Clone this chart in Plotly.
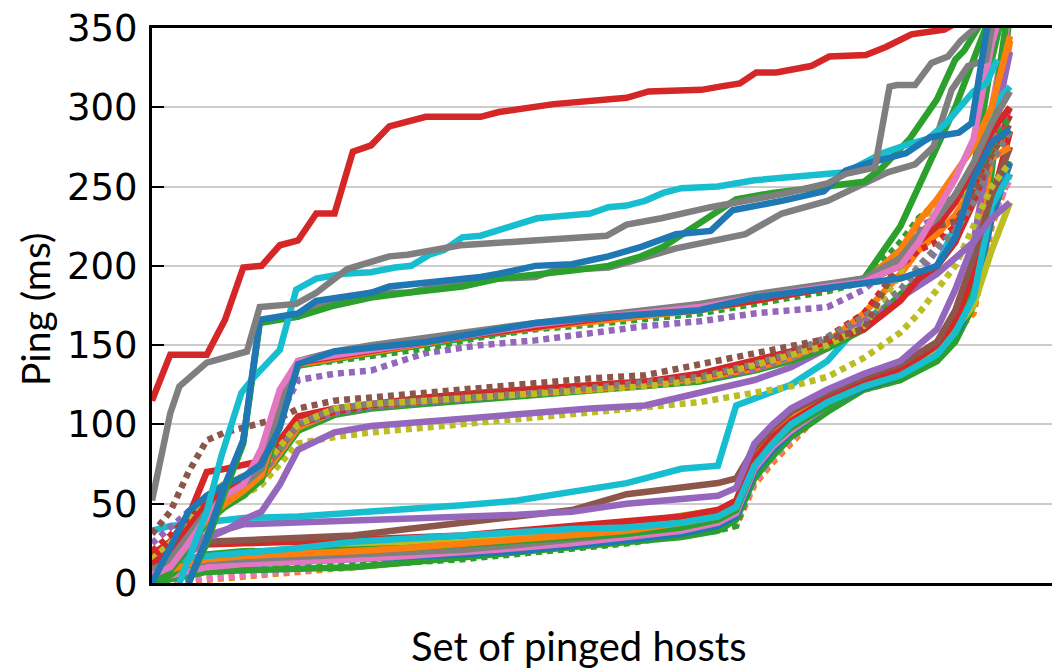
import plotly.graph_objects as go

# ---------------- data (host index on x, ping in ms on y) ----------------
# knot positions shared by the low band (jump near host 32)
knots_low = [0, 1, 2, 3, 5, 8, 11, 14, 17, 20, 23, 26, 29, 31, 32, 33, 34, 35, 37, 39, 41, 43, 44, 45, 46, 47]
# knot positions shared by the middle bands
knots_mid = [0, 1, 2, 3, 4, 5, 6, 7, 8, 10, 12, 15, 18, 21, 24, 27, 30, 33, 35, 37, 39, 41, 42, 43, 44, 45, 46, 47]

# low band (0-75 ms before the jump)
low_orange_dot = [0, 0, 0, 2, 4, 7, 10, 13, 15, 18, 22, 26, 31, 34, 36, 62, 76, 88, 112, 122, 128, 146, 158, 170, 225, 258]
low_pink_dot   = [0, 1, 2, 3, 5, 8, 11, 14, 16, 19, 23, 27, 31, 35, 37, 64, 78, 90, 112, 123, 129, 147, 160, 175, 230, 255]
low_green_dot  = [3, 5, 6, 7, 8, 9, 11, 13, 15, 18, 21, 25, 30, 33, 36, 68, 84, 95, 114, 125, 132, 145, 160, 185, 238, 268]
low_green_b    = [0, 2, 5, 7, 8, 9, 10, 13, 16, 19, 22, 25, 29, 33, 40, 66, 80, 92, 108, 122, 128, 140, 152, 175, 260, 360]
low_blue       = [3, 7, 10, 11, 12, 13, 14, 16, 18, 20, 23, 27, 31, 36, 42, 70, 84, 95, 112, 123, 130, 142, 155, 178, 230, 265]
low_pink       = [2, 5, 8, 10, 12, 13, 15, 17, 19, 22, 25, 29, 33, 38, 44, 72, 86, 96, 112, 124, 132, 144, 160, 200, 300, 360]
low_gray       = [10, 12, 13, 14, 15, 16, 17, 19, 21, 24, 27, 31, 36, 42, 50, 82, 96, 105, 118, 128, 136, 148, 165, 195, 245, 275]
low_olive      = [6, 10, 14, 16, 18, 21, 24, 26, 28, 30, 33, 37, 42, 46, 52, 84, 98, 108, 120, 128, 133, 145, 160, 175, 210, 240]
low_green_a    = [0, 5, 14, 18, 20, 20, 21, 22, 24, 26, 28, 31, 35, 40, 46, 74, 88, 98, 112, 124, 130, 140, 155, 185, 290, 370]
low_orange     = [5, 8, 12, 15, 17, 18, 20, 22, 25, 28, 30, 33, 38, 42, 48, 80, 94, 104, 118, 128, 136, 150, 168, 200, 270, 342]
low_red        = [18, 22, 24, 24, 25, 26, 27, 28, 30, 33, 36, 38, 42, 46, 52, 78, 92, 102, 116, 126, 134, 150, 165, 195, 240, 285]
low_cyan_b     = [8, 14, 16, 17, 18, 22, 26, 28, 31, 33, 34, 35, 38, 42, 48, 74, 88, 100, 114, 124, 131, 144, 158, 180, 238, 258]
low_brown      = [20, 22, 25, 26, 27, 28, 30, 34, 38, 42, 46, 56, 60, 63, 66, 85, 98, 108, 120, 130, 138, 152, 172, 205, 245, 275]
low_purple     = [12, 15, 22, 30, 37, 38, 39, 40, 41, 43, 45, 50, 53, 55, 60, 88, 100, 110, 122, 132, 140, 160, 185, 215, 280, 335]
low_cyan_a     = [33, 36, 37, 38, 41, 42, 44, 46, 49, 52, 57, 63, 72, 74, 112, 116, 120, 125, 140, 166, 180, 200, 225, 262, 300, 313]

# middle band (95-150 ms)
mid_olive_dot2 = [15, 20, 30, 40, 48, 55, 62, 75, 88, 92, 95, 98, 101, 104, 107, 110, 114, 120, 124, 130, 142, 158, 170, 185, 200, 225, 250, 265]
mid_purple     = [12, 14, 18, 28, 33, 40, 45, 62, 84, 95, 99, 102, 105, 108, 110, 112, 120, 128, 136, 148, 165, 180, 188, 195, 205, 215, 230, 240]
mid_green      = [5, 15, 28, 45, 55, 60, 66, 80, 96, 106, 110, 113, 116, 118, 121, 124, 127, 134, 140, 148, 160, 182, 192, 200, 215, 260, 330, 380]
mid_orange     = [10, 18, 30, 45, 55, 60, 66, 82, 98, 108, 112, 115, 118, 120, 122, 125, 129, 135, 142, 152, 170, 195, 210, 220, 232, 250, 268, 275]
mid_purple_dot = [25, 35, 45, 55, 60, 64, 68, 84, 100, 107, 111, 114, 117, 120, 122, 125, 128, 135, 142, 150, 165, 180, 195, 210, 225, 245, 270, 285]
mid_red        = [18, 26, 42, 70, 72, 75, 77, 90, 105, 110, 113, 117, 120, 122, 124, 127, 132, 140, 146, 152, 160, 178, 192, 200, 215, 240, 272, 295]
mid_red_dot    = [20, 30, 42, 55, 62, 66, 70, 85, 100, 108, 112, 115, 118, 121, 123, 126, 130, 137, 145, 155, 170, 200, 210, 215, 225, 245, 275, 300]
mid_gray_dot   = [10, 20, 35, 50, 58, 64, 70, 84, 100, 110, 113, 115, 117, 120, 123, 126, 130, 138, 145, 155, 168, 185, 200, 212, 222, 240, 265, 285]
mid_olive_dot  = [15, 25, 40, 55, 63, 67, 72, 86, 100, 110, 113, 115, 117, 119, 121, 124, 128, 137, 143, 150, 162, 195, 230, 236, 240, 250, 270, 290]
mid_brown_dot  = [31, 45, 70, 90, 95, 98, 101, 104, 110, 115, 117, 120, 123, 127, 129, 131, 138, 145, 150, 154, 160, 205, 222, 225, 228, 245, 270, 290]

# upper-middle band (140-190 ms)
up_purple_dot  = [10, 18, 30, 45, 55, 62, 70, 105, 128, 132, 134, 145, 150, 153, 158, 162, 165, 170, 172, 174, 185, 205, 225, 230, 240, 260, 280, 300]
up_green_dot   = [3, 12, 30, 45, 55, 62, 70, 112, 138, 140, 143, 148, 155, 160, 163, 166, 170, 176, 180, 184, 190, 215, 230, 240, 245, 255, 275, 295]
up_green       = [0, 8, 22, 38, 48, 55, 65, 100, 137, 141, 145, 150, 156, 161, 165, 169, 173, 180, 184, 187, 192, 225, 250, 275, 300, 330, 360, 380]
up_orange      = [6, 12, 25, 40, 50, 58, 68, 105, 138, 142, 146, 151, 157, 161, 165, 168, 172, 178, 182, 185, 190, 210, 228, 242, 258, 275, 300, 345]
up_red         = [12, 20, 35, 50, 58, 65, 75, 112, 139, 143, 147, 152, 157, 162, 166, 170, 173, 178, 182, 186, 190, 200, 215, 225, 240, 262, 285, 300]
up_gray        = [8, 15, 30, 45, 55, 62, 72, 110, 140, 146, 150, 155, 160, 164, 168, 172, 176, 182, 185, 188, 192, 205, 220, 230, 245, 265, 290, 310]
up_pink        = [5, 10, 25, 42, 55, 62, 85, 122, 140, 144, 147, 152, 158, 163, 167, 170, 174, 180, 184, 187, 190, 200, 215, 235, 255, 280, 340, 380]
up_blue        = [0, 22, 45, 55, 62, 67, 75, 98, 138, 146, 148, 152, 158, 164, 167, 169, 172, 180, 183, 186, 188, 192, 196, 200, 218, 255, 278, 286]

# high band lines (individual knots)
hi_gray_x  = [2, 3, 4, 5, 5.9, 8, 9, 12, 14, 16, 19, 21, 22, 25, 26, 27.8, 28.7, 32.5, 34.5, 37, 40.3, 41.8, 42.8, 43.8, 44.7, 45.7, 46.3]
hi_gray_y  = [0, 30, 62, 90, 165, 168, 175, 183, 183, 188, 192, 193, 197, 199, 202, 208, 211, 220, 233, 241, 259, 264, 275, 311, 326, 330, 370]
hi_green_x = [2, 3, 4, 5, 5.9, 8, 10, 12, 14, 17, 19, 21, 23, 25, 26.8, 28, 30.2, 32, 34, 37, 39, 40, 41.5, 43, 44, 44.5, 45.5]
hi_green_y = [0, 25, 58, 88, 164, 168, 175, 180, 183, 187, 192, 194, 197, 200, 206, 212, 228, 242, 246, 250, 253, 262, 280, 305, 330, 336, 355]
hi_blue_x  = [2, 3, 4, 5, 5.9, 8, 9, 12, 13, 15, 18, 19, 21, 23, 25, 26.8, 28.7, 30.6, 31.8, 34.5, 36.8, 38, 39.3, 41.3, 42.6, 44.2, 44.9, 45.7, 46.2]
hi_blue_y  = [0, 28, 62, 90, 166, 170, 178, 183, 187, 189, 193, 195, 200, 201, 206, 212, 220, 222, 235, 241, 247, 260, 265, 271, 281, 284, 290, 347, 380]
hi_cyan_x  = [1.5, 3, 3.8, 4.9, 5.6, 7, 7.9, 9, 10.5, 12, 13.3, 14.2, 15.2, 16, 17, 18, 19.7, 21.1, 22, 24, 25, 26, 27, 28, 29, 31, 33, 35.5, 38, 39, 40, 41.5, 42.5, 43.5, 45, 45.7, 46.3]
hi_cyan_y  = [0, 45, 80, 120, 130, 147, 185, 192, 195, 196, 199, 200, 207, 210, 218, 219, 225, 230, 231, 233, 237, 238, 241, 246, 249, 250, 254, 256, 259, 265, 271, 277, 280, 290, 310, 315, 330]
top_gray_x = [0, 1, 1.5, 3, 5.2, 5.9, 7.9, 9, 10.7, 13, 14, 16.9, 20.9, 24.9, 26, 27.9, 30.6, 34.4, 37, 38, 39.6, 40.4, 40.8, 41.8, 42.7, 43.6, 44.3, 44.8, 45.6]
top_gray_y = [52, 107, 124, 139, 146, 174, 176, 183, 198, 206, 207, 213, 216, 219, 226, 230, 237, 245, 252, 258, 262, 313, 314, 314, 328, 332, 342, 347, 355]
top_red_x  = [0, 1, 3, 4, 5, 6, 7, 8, 9, 10, 11, 12, 13, 14, 15, 18, 19, 22, 24, 26, 27.2, 29.2, 30.1, 31.1, 32.2, 33.1, 34.2, 36.1, 37.1, 39.1, 40.2, 41.6, 42.6, 43.4, 44.5]
top_red_y  = [115, 144, 144, 166, 199, 200, 213, 216, 233, 233, 272, 276, 288, 291, 294, 294, 297, 302, 304, 306, 310, 310, 311, 313, 315, 322, 322, 326, 332, 333, 338, 346, 348, 349, 356]

y_ticks = [0, 50, 100, 150, 200, 250, 300, 350]

# ---------------- styles ----------------
BLUE, ORANGE, GREEN, RED, PURPLE = "#1f77b4", "#ff7f0e", "#2ca02c", "#d62728", "#9467bd"
BROWN, PINK, GRAY, OLIVE, CYAN = "#8c564b", "#e377c2", "#7f7f7f", "#bcbd22", "#17becf"
DOT = "6px,5px"

series = [
    (knots_low, low_orange_dot, ORANGE, DOT),
    (knots_low, low_pink_dot, PINK, DOT),
    (knots_low, low_green_dot, GREEN, DOT),
    (knots_low, low_green_b, GREEN, "solid"),
    (knots_low, low_blue, BLUE, "solid"),
    (knots_low, low_pink, PINK, "solid"),
    (knots_low, low_gray, GRAY, "solid"),
    (knots_low, low_olive, OLIVE, "solid"),
    (knots_low, low_green_a, GREEN, "solid"),
    (knots_low, low_orange, ORANGE, "solid"),
    (knots_low, low_red, RED, "solid"),
    (knots_low, low_cyan_b, CYAN, "solid"),
    (knots_low, low_brown, BROWN, "solid"),
    (knots_low, low_purple, PURPLE, "solid"),
    (knots_low, low_cyan_a, CYAN, "solid"),
    (knots_mid, mid_olive_dot2, OLIVE, DOT),
    (knots_mid, mid_purple, PURPLE, "solid"),
    (knots_mid, mid_green, GREEN, "solid"),
    (knots_mid, mid_orange, ORANGE, "solid"),
    (knots_mid, mid_purple_dot, PURPLE, DOT),
    (knots_mid, mid_red, RED, "solid"),
    (knots_mid, mid_red_dot, RED, DOT),
    (knots_mid, mid_gray_dot, GRAY, DOT),
    (knots_mid, mid_olive_dot, OLIVE, DOT),
    (knots_mid, mid_brown_dot, BROWN, DOT),
    (knots_mid, up_purple_dot, PURPLE, DOT),
    (knots_mid, up_green_dot, GREEN, DOT),
    (knots_mid, up_green, GREEN, "solid"),
    (knots_mid, up_orange, ORANGE, "solid"),
    (knots_mid, up_red, RED, "solid"),
    (knots_mid, up_gray, GRAY, "solid"),
    (knots_mid, up_pink, PINK, "solid"),
    (knots_mid, up_blue, BLUE, "solid"),
    (hi_gray_x, hi_gray_y, GRAY, "solid"),
    (hi_green_x, hi_green_y, GREEN, "solid"),
    (hi_cyan_x, hi_cyan_y, CYAN, "solid"),
    (hi_blue_x, hi_blue_y, BLUE, "solid"),
    (top_gray_x, top_gray_y, GRAY, "solid"),
    (top_red_x, top_red_y, RED, "solid"),
]

fig = go.Figure()
for xs, ys, color, dash in series:
    fig.add_trace(go.Scatter(x=xs, y=ys, mode="lines",
                             line=dict(color=color, width=6.5, dash=dash),
                             showlegend=False, hoverinfo="skip"))

TICK_FONT = "DejaVu Sans"
TITLE_FONT = "Lato"
fig.update_layout(
    width=1052, height=670,
    margin=dict(l=152, r=0, t=28, b=87),
    paper_bgcolor="white", plot_bgcolor="white",
    font=dict(family=TICK_FONT, size=37, color="black"),
    xaxis=dict(range=[0, 49.3], showticklabels=False, ticks="", showgrid=False,
               zeroline=False, showline=True, linecolor="black", linewidth=3, mirror=True),
    yaxis=dict(range=[0, 350], tickvals=y_ticks,
               ticks="inside", ticklen=12, tickwidth=2, tickcolor="black",
               ticklabelstandoff=4,
               showgrid=True, gridcolor="#cccccc", gridwidth=1.5, zeroline=False,
               showline=True, linecolor="black", linewidth=3,
               tickfont=dict(family=TICK_FONT, size=37, color="black")),
    yaxis2=dict(range=[0, 350], overlaying="y", side="right", anchor="x",
                tickvals=y_ticks,
                ticks="inside", ticklen=3, tickwidth=2, tickcolor="black",
                showticklabels=False, showgrid=False, zeroline=False, showline=False),
    annotations=[
        dict(text="Ping (ms)", textangle=-90, xref="paper", yref="paper",
             x=-0.13, y=0.492, xanchor="center", yanchor="middle", showarrow=False,
             font=dict(family=TITLE_FONT, size=39, color="black")),
        dict(text="Set of pinged hosts", xref="paper", yref="paper",
             x=0.4744, y=-0.113, xanchor="center", yanchor="middle", showarrow=False,
             font=dict(family=TITLE_FONT, size=40, color="black")),
    ],
)

fig.write_html("out.html", config={"displayModeBar": False},
               post_script="document.body.style.margin='0px';")
